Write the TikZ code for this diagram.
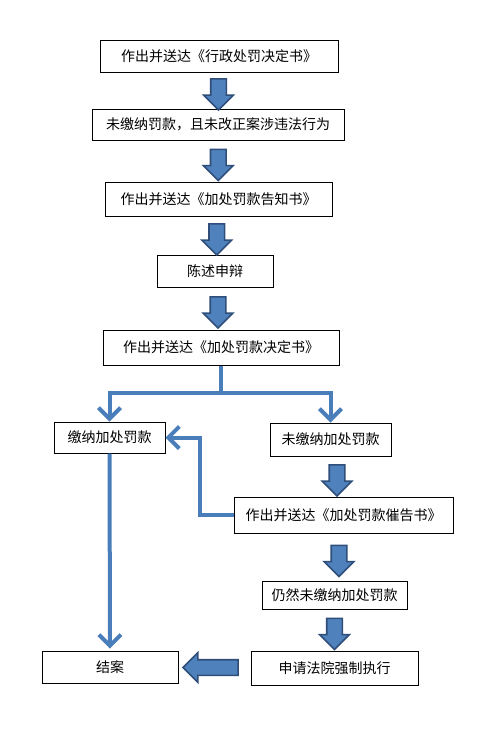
\documentclass[tikz,border=0pt]{standalone}
\usepackage{fontspec}
\usepackage{xcolor}
\usetikzlibrary{shapes.arrows,arrows.meta}
\setmainfont{Noto Sans CJK SC}
\definecolor{arrowblue}{HTML}{4F81BD}
\definecolor{arrowedge}{HTML}{2F4F7A}
\definecolor{lineblue}{HTML}{4A7EBB}

\begin{document}
\begin{tikzpicture}[x=1pt,y=-1pt,
        box/.style={draw,line width=1pt,inner sep=0pt,font=\fontsize{14}{16}\selectfont},
        block/.style={single arrow,draw=arrowedge,fill=arrowblue,line width=1.6pt,inner sep=7pt,single arrow head extend=7pt},
        blockdown/.style={block,minimum height=31pt,rotate=-90},
        blockleft/.style={block,minimum height=55pt,rotate=180},
        flow/.style={draw=lineblue,line width=4pt,-{Straight Barb[length=11pt,width=22pt]}}]
                \useasboundingbox[fill=white] (0,0) rectangle (489,734);

                \node[box,minimum width=238pt,minimum height=32pt] (decide) at (219,56) {作出并送达《行政处罚决定书》};
                \node[box,minimum width=252pt,minimum height=31pt] (unpaid) at (218,124.5) {未缴纳罚款，且未改正案涉违法行为};
                \node[box,minimum width=227pt,minimum height=34pt] (notice) at (218.5,199) {作出并送达《加处罚款告知书》};
                \node[box,minimum width=116pt,minimum height=32pt] (defend) at (215,271) {陈述申辩};
                \node[box,minimum width=236pt,minimum height=35pt] (extra) at (221,347.5) {作出并送达《加处罚款决定书》};
                \node[box,minimum width=111pt,minimum height=31pt] (paid) at (109.5,437.5) {缴纳加处罚款};
                \node[box,minimum width=121pt,minimum height=33pt] (notpaid) at (330.5,439.5) {未缴纳加处罚款};
                \node[box,minimum width=219pt,minimum height=36pt] (urge) at (343.5,515) {作出并送达《加处罚款催告书》};
                \node[box,minimum width=145pt,minimum height=28pt] (still) at (334.5,595) {仍然未缴纳加处罚款};
                \node[box,minimum width=167pt,minimum height=34pt] (court) at (334.5,668) {申请法院强制执行};
                \node[box,minimum width=136pt,minimum height=32pt] (close) at (110,667) {结案};

                \path (decide.south) -- node[blockdown] {} (unpaid.north);
                \path (unpaid.south) -- node[blockdown] {} (notice.north);
                \path (notice.south) -- node[blockdown] {} (defend.north);
                \path (defend.south) -- node[blockdown] {} (extra.north);
                \path (notpaid.south) -- node[blockdown] {} (urge.north);
                \path (urge.south) -- node[blockdown] {} (still.north);
                \path (still.south) -- node[blockdown] {} (court.north);
                \path (court.west) -- node[blockleft] {} (close.east);

                \draw[flow] (extra.south) -- ++(0,27) coordinate (split) -| (paid.north);
                \draw[flow] (split) -| (notpaid.north);
                \draw[flow] (urge.west) -- ++(-34,0) |- (paid.east);
                \draw[flow,shorten >=2pt] (paid.south) -- (close.north);
            \end{tikzpicture}
\end{document}
